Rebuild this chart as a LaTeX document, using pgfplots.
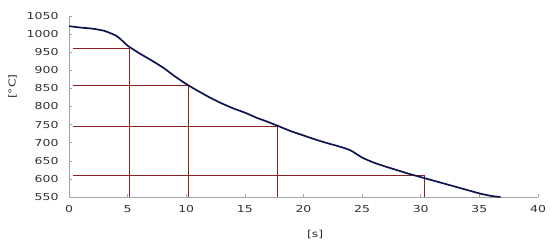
\documentclass[border=0pt]{standalone}
\usepackage{fontspec}
\setmainfont{DejaVu Sans}[FakeStretch=1.3]
\usepackage{pgfplots}
\pgfplotsset{compat=1.18}
\definecolor{curve}{RGB}{15,20,80}
\definecolor{guide}{RGB}{140,35,35}
\definecolor{axgray}{RGB}{165,165,165}
\definecolor{txt}{RGB}{50,50,50}

\begin{document}
\begin{tikzpicture}
\begin{axis}[
  name=ax,
  scale only axis,
  width=469pt, height=181pt,
  xmin=0, xmax=40, ymin=550, ymax=1050,
  xtick={0,5,...,40}, ytick={550,600,...,1050},
  axis lines=left,
  axis line style={-, draw=axgray, line width=0.8pt},
  tick align=inside,
  major tick length=3.5pt,
  tick style={axgray, line width=0.6pt},
  ticklabel style={font=\fontsize{9.6}{11}\selectfont, text=txt},
  xticklabel style={yshift=-5pt},
  yticklabel style={xshift=-7pt},
  /pgf/number format/assume math mode=true,
  /pgf/number format/1000 sep={},
  xlabel={[s]}, ylabel={[°C]},
  label style={font=\fontsize{9.6}{11}\selectfont, text=txt},
  xlabel style={at={(axis description cs:0.525,-0.205)}, anchor=center},
  ylabel style={at={(axis description cs:-0.12,0.61)}, anchor=center},
  clip=false,
]
% guide lines
\addplot[guide, line width=1.1pt] coordinates {(0.3,960) (5.15,960) (5.15,550)};
\addplot[guide, line width=1.1pt] coordinates {(0.3,857) (10.2,857) (10.2,550)};
\addplot[guide, line width=1.1pt] coordinates {(0.3,746) (17.8,746) (17.8,550)};
\addplot[guide, line width=1.1pt] coordinates {(0.3,610) (30.3,610) (30.3,550)};
% cooling curve
\addplot[curve, line width=1.7pt, smooth, tension=0.4] coordinates {
  (0,1022) (1,1018) (2,1015) (3,1009) (4,996) (4.5,983) (5,968) (6,947) (7,928)
  (8,908) (9,884) (10,862) (11,843) (12,825) (13,809) (14,795) (15,783)
  (16,769) (17,757) (18,744) (19,731) (20,720) (21,709) (22,699) (23,690)
  (24,679) (25,659) (26,645) (27,634) (28,624) (29,614) (30,605) (31,596)
  (32,587) (33,578) (34,569) (35,560) (36,553) (36.8,550)
};
\end{axis}
\path[use as bounding box] ([xshift=-69pt,yshift=-50pt]ax.south west) rectangle ([xshift=12pt,yshift=16pt]ax.north east);
\end{tikzpicture}
\end{document}
